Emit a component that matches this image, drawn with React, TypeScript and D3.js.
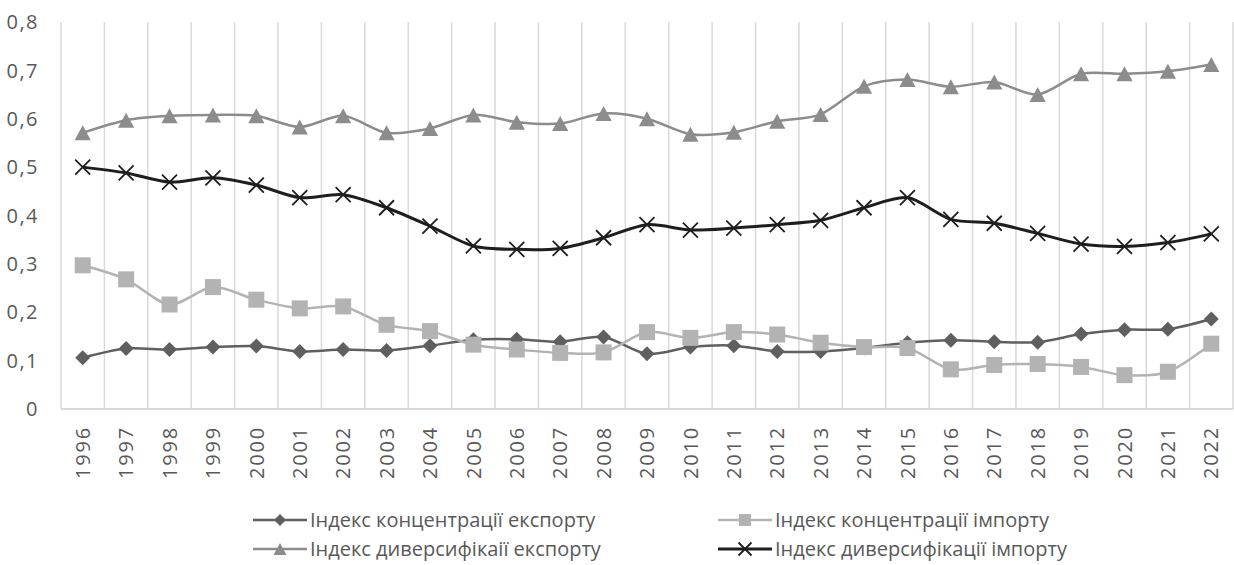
import React from "react";
import * as d3 from "d3";

const years = [1996,1997,1998,1999,2000,2001,2002,2003,2004,2005,2006,2007,2008,2009,2010,2011,2012,2013,2014,2015,2016,2017,2018,2019,2020,2021,2022];
const exportConc = [0.106,0.125,0.123,0.128,0.130,0.119,0.123,0.121,0.131,0.143,0.144,0.139,0.149,0.114,0.128,0.131,0.119,0.119,0.126,0.137,0.142,0.139,0.138,0.155,0.164,0.165,0.186];
const importConc = [0.297,0.268,0.216,0.252,0.226,0.208,0.212,0.174,0.161,0.133,0.123,0.116,0.117,0.159,0.147,0.159,0.154,0.137,0.128,0.126,0.082,0.091,0.093,0.087,0.070,0.077,0.135];
const exportDiv = [0.571,0.597,0.606,0.608,0.606,0.583,0.606,0.571,0.580,0.608,0.593,0.590,0.611,0.600,0.568,0.572,0.595,0.609,0.667,0.681,0.666,0.676,0.650,0.693,0.693,0.698,0.712];
const importDiv = [0.500,0.488,0.469,0.478,0.463,0.437,0.443,0.416,0.378,0.337,0.330,0.332,0.354,0.381,0.370,0.374,0.381,0.390,0.416,0.437,0.392,0.384,0.363,0.341,0.336,0.344,0.362];
const yTicks = [0,0.1,0.2,0.3,0.4,0.5,0.6,0.7,0.8];
const seriesNames = ["Індекс концентрації експорту","Індекс концентрації імпорту","Індекс диверсифікаії експорту","Індекс диверсифікації імпорту"];

const W = 1234, H = 565;
const left = 61, right = 1233, top = 22, bottom = 409;
const FONT = "'Open Sans', sans-serif";
const TXT = "#595959";

type Kind = "diamond" | "square" | "triangle" | "x";
const series = [
  { name: seriesNames[0], values: exportConc, color: "#5f5f5f", width: 2.5, kind: "diamond" as Kind },
  { name: seriesNames[1], values: importConc, color: "#b3b3b3", width: 2.5, kind: "square" as Kind },
  { name: seriesNames[2], values: exportDiv, color: "#8c8c8c", width: 2.5, kind: "triangle" as Kind },
  { name: seriesNames[3], values: importDiv, color: "#1e1e1e", width: 3, kind: "x" as Kind },
];

function Marker({ kind, x, y, color, s }: { kind: Kind; x: number; y: number; color: string; s: number }) {
  if (kind === "diamond") {
    const r = s / 2;
    return <path d={`M${x},${y - r}L${x + r},${y}L${x},${y + r}L${x - r},${y}Z`} fill={color} />;
  }
  if (kind === "square") {
    return <rect x={x - s / 2} y={y - s / 2} width={s} height={s} fill={color} />;
  }
  if (kind === "triangle") {
    const w = s * 1.08, h = s;
    return <path d={`M${x},${y - h / 2}L${x + w / 2},${y + h / 2}L${x - w / 2},${y + h / 2}Z`} fill={color} />;
  }
  const r = s / 2;
  return (
    <path d={`M${x - r},${y - r}L${x + r},${y + r}M${x - r},${y + r}L${x + r},${y - r}`} stroke={color} strokeWidth={1.8} fill="none" />
  );
}

export default function App() {
  const x = d3.scaleBand<number>().domain(years).range([left, right]);
  const y = d3.scaleLinear().domain([0, 0.8]).range([bottom, top]);
  const cx = (yr: number) => (x(yr) as number) + x.bandwidth() / 2;
  const line = d3.line<number>().x((_, i) => cx(years[i])).y((v) => y(v)).curve(d3.curveCardinal.tension(0.15));
  const boundaries = d3.range(years.length + 1).map((i) => left + i * x.step());
  const fmt = (v: number) => (v === 0 ? "0" : d3.format(".1f")(v).replace(".", ","));
  const markerSize: Record<Kind, number> = { diamond: 15, square: 16, triangle: 15, x: 15 };

  const legend = [
    { s: series[0], lx: 253, ly: 520 },
    { s: series[1], lx: 718, ly: 520 },
    { s: series[2], lx: 253, ly: 549 },
    { s: series[3], lx: 718, ly: 549 },
  ];

  return (
    <svg width={W} height={H} style={{ position: "absolute", left: 0, top: 0, background: "#fff" }} fontFamily={FONT}>
      <rect width={W} height={H} fill="#fff" />
      {boundaries.map((bx, i) => (
        <line key={i} x1={bx} x2={bx} y1={top} y2={bottom} stroke="#d9d9d9" strokeWidth={1.5} />
      ))}
      <line x1={left} x2={right} y1={bottom} y2={bottom} stroke="#d9d9d9" strokeWidth={1.8} />
      {yTicks.map((t) => (
        <text key={t} x={39} y={y(t)} dy="0.36em" textAnchor="end" fontSize={20} fill={TXT} letterSpacing={1.5}>
          {fmt(t)}
        </text>
      ))}
      {years.map((yr) => (
        <text key={yr} transform={`translate(${cx(yr)},${426}) rotate(-90)`} dy="0.36em" textAnchor="end" fontSize={20} fill={TXT} letterSpacing={1.8}>
          {yr}
        </text>
      ))}
      {series.map((s) => (
        <g key={s.name}>
          <path d={line(s.values) || ""} fill="none" stroke={s.color} strokeWidth={s.width} strokeLinejoin="round" />
          {s.values.map((v, i) => (
            <Marker key={i} kind={s.kind} x={cx(years[i])} y={y(v)} color={s.color} s={markerSize[s.kind]} />
          ))}
        </g>
      ))}
      {legend.map(({ s, lx, ly }) => (
        <g key={s.name}>
          <line x1={lx} x2={lx + 54} y1={ly} y2={ly} stroke={s.color} strokeWidth={s.width} />
          <Marker kind={s.kind} x={lx + 27} y={ly} color={s.color} s={s.kind === "x" ? 13 : 12} />
          <text x={lx + 57} y={ly} dy="0.35em" fontSize={20} fill={TXT}>
            {s.name}
          </text>
        </g>
      ))}
    </svg>
  );
}
